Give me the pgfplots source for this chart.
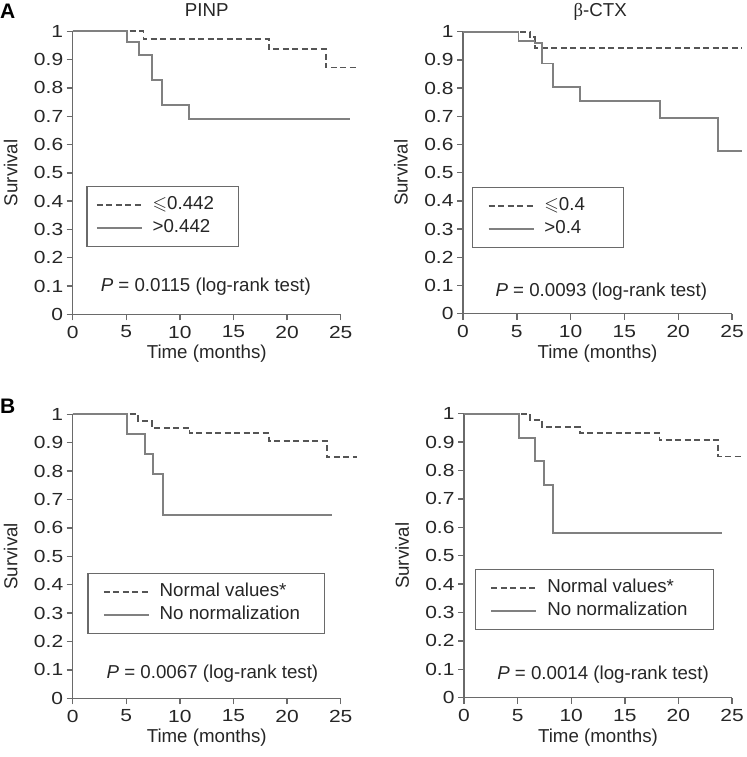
\documentclass[border=0pt]{standalone}
\usepackage{amssymb}
\usepackage{fontspec}
\setmainfont{Liberation Sans}
\newfontfamily\serifb{Liberation Serif}
\newfontfamily\tickfont{Liberation Sans}[FakeStretch=1.2]
\usepackage{pgfplots}
\pgfplotsset{compat=1.18}
\definecolor{axgray}{HTML}{6A6A6A}
\definecolor{dashgray}{HTML}{555555}
\definecolor{solidgray}{HTML}{808080}
\newcommand{\fs}{\fontsize{18.7bp}{22bp}\selectfont}
\newcommand{\tfs}{\tickfont\fontsize{17.5bp}{21bp}\selectfont}
\pgfplotsset{
 km/.style={
  scale only axis, width=268bp, height=283bp,
  xmin=0, xmax=25, ymin=0, ymax=1,
  axis x line*=bottom, axis y line*=left, clip=false,
  xtick={0,5,10,15,20,25},
  ytick={0,0.1,0.2,0.3,0.4,0.5,0.6,0.7,0.8,0.9,1},
  tick align=outside, major tick length=6bp,
  axis line style={draw=axgray, line width=1.4bp},
  every tick/.style={draw=axgray, line width=1.4bp},
  tick label style={font=\tfs, text=black!85},
  xticklabel style={yshift=-2bp},
  /pgf/number format/assume math mode=true,
  xlabel={Time (months)}, ylabel={Survival},
  label style={font=\fs, text=black!85},
  xlabel style={at={(axis description cs:0.5,-0.14)}, anchor=center},
  ylabel style={at={(axis description cs:-0.231,0.5)}, anchor=center},
  legend cell align=left,
  legend image code/.code={\draw[##1] (0bp,0bp) -- (45bp,0bp);},
 },
 lg/.style n args={3}{legend style={at={(axis description cs:#1,#2)}, anchor=north west,
   draw=axgray, line width=1.5bp, font=\fs, text=black!85,
   inner xsep=#3, inner ysep=10bp, row sep=6bp, column sep=10bp,
   nodes={inner sep=0pt, text height=13bp, text depth=4bp}}},
 dsh/.style={const plot, no marks, draw=dashgray, line width=1.7bp, dash pattern=on 6bp off 3.5bp},
 sld/.style={const plot, no marks, draw=solidgray, line width=1.8bp},
}
\begin{document}
\begin{tikzpicture}
\useasboundingbox (0,0) rectangle (747bp,-757bp);
\node[anchor=base west, inner sep=0, font=\bfseries\fontsize{21bp}{24bp}\selectfont] at (0bp,-18.5bp) {A};
\node[anchor=base west, inner sep=0, font=\bfseries\fontsize{21bp}{24bp}\selectfont] at (0bp,-413.5bp) {B};

% A left: PINP
\begin{axis}[km, at={(72.7bp,-314.3bp)}, anchor=south west, lg={0.05}{0.454}{9bp}]
\addplot[dsh] coordinates {(0,1)(6.6,0.973)(18.3,0.937)(23.6,0.872)(26.5,0.872)};
\addlegendentry{\makebox[77bp][l]{$\leqslant$0.442}}
\addplot[sld] coordinates {(0,1)(5.1,0.962)(6.2,0.917)(7.37,0.829)(8.3,0.740)(10.85,0.690)(25.9,0.690)};
\addlegendentry{\makebox[77bp][l]{>0.442}}
\node[font=\fs, text=black!85] at (axis cs:12.42,0.098) {\textit{P} = 0.0115 (log-rank test)};
\node[font=\fs, text=black!85, anchor=base] at (axis description cs:0.5,1.053) {PINP};
\end{axis}

% A right: beta-CTX
\begin{axis}[km, at={(463bp,-313.7bp)}, anchor=south west, width=269bp, height=282bp, lg={0.033}{0.450}{15bp}]
\addplot[dsh] coordinates {(0,1)(6.2,0.98)(6.7,0.943)(25.96,0.943)};
\addlegendentry{\makebox[64bp][l]{$\leqslant$0.4}}
\addplot[sld] coordinates {(0,1)(5.15,0.966)(6.65,0.961)(7.37,0.887)(8.36,0.803)(10.9,0.755)(18.3,0.694)(23.7,0.578)(25.96,0.578)};
\addlegendentry{\makebox[64bp][l]{>0.4}}
\node[font=\fs, text=black!85] at (axis cs:12.85,0.078) {\textit{P} = 0.0093 (log-rank test)};
\node[font=\fs, text=black!85, anchor=base] at (axis description cs:0.51,1.053) {{\serifb β}-CTX};
\end{axis}

% B left
\begin{axis}[km, at={(72.7bp,-698.3bp)}, anchor=south west, height=284bp, lg={0.054}{0.442}{15bp}]
\addplot[dsh] coordinates {(0,1)(6.1,0.976)(7.37,0.953)(10.9,0.933)(18.3,0.906)(23.7,0.849)(26.5,0.849)};
\addlegendentry{\makebox[150bp][l]{Normal values*}}
\addplot[sld] coordinates {(0,1)(5.1,0.931)(6.74,0.860)(7.46,0.789)(8.4,0.645)(24.2,0.645)};
\addlegendentry{\makebox[150bp][l]{No normalization}}
\node[font=\fs, text=black!85] at (axis cs:13.04,0.088) {\textit{P} = 0.0067 (log-rank test)};
\end{axis}

% B right
\begin{axis}[km, at={(464bp,-697.7bp)}, anchor=south west, height=284bp, lg={0.04}{0.4538}{15bp}]
\addplot[dsh] coordinates {(0,1)(6.13,0.978)(7.3,0.954)(10.8,0.933)(18.25,0.907)(23.7,0.849)(25.96,0.849)};
\addlegendentry{\makebox[151bp][l]{Normal values*}}
\addplot[sld] coordinates {(0,1)(5.1,0.915)(6.65,0.833)(7.43,0.749)(8.3,0.581)(24.1,0.581)};
\addlegendentry{\makebox[151bp][l]{No normalization}}
\node[font=\fs, text=black!85] at (axis cs:12.97,0.08) {\textit{P} = 0.0014 (log-rank test)};
\end{axis}
\end{tikzpicture}
\end{document}
